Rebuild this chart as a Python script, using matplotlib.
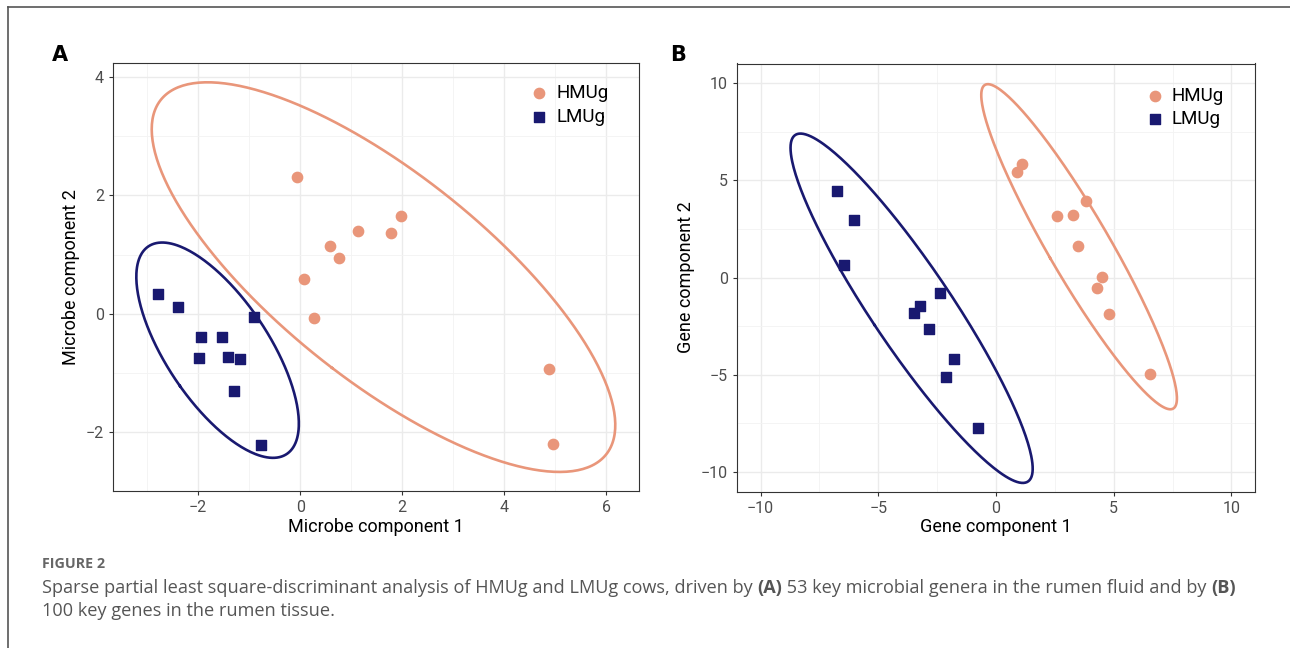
import numpy as np
import matplotlib
matplotlib.use("Agg")
import matplotlib.pyplot as plt
from matplotlib import font_manager
from matplotlib.ticker import MultipleLocator

# Panel A: microbial genera (sPLS-DA components)
a_hmug_x = [-0.07, 0.07, 0.27, 0.59, 0.75, 1.13, 1.78, 1.97, 4.87, 4.96]
a_hmug_y = [2.31, 0.59, -0.07, 1.14, 0.94, 1.39, 1.36, 1.66, -0.94, -2.20]
a_lmug_x = [-2.79, -2.40, -1.95, -1.53, -1.98, -1.41, -1.18, -1.29, -0.90, -0.77]
a_lmug_y = [0.34, 0.11, -0.40, -0.40, -0.75, -0.73, -0.77, -1.30, -0.05, -2.23]

# Panel B: rumen tissue genes
b_hmug_x = [0.90, 1.11, 2.58, 3.25, 3.83, 3.50, 4.52, 4.29, 4.79, 6.52]
b_hmug_y = [5.40, 5.85, 3.15, 3.21, 3.93, 1.61, 0.05, -0.56, -1.88, -4.94]
b_lmug_x = [-6.75, -6.04, -6.45, -2.39, -3.22, -3.48, -2.83, -1.78, -2.14, -0.76]
b_lmug_y = [4.43, 2.94, 0.65, -0.79, -1.44, -1.85, -2.65, -4.21, -5.13, -7.76]

groups = ["HMUg", "LMUg"]
col_h = "#E9967A"
col_l = "#191970"

available = {f.name for f in font_manager.fontManager.ttflist}
plot_font = "Liberation Sans Narrow" if "Liberation Sans Narrow" in available else "Roboto"
cap_font = "Open Sans" if "Open Sans" in available else "DejaVu Sans"


def conf_ellipse(x, y, level=0.95, n=300):
    # 95% normal-theory ellipse, like ellipse::ellipse in R
    x = np.asarray(x)
    y = np.asarray(y)
    cov = np.cov(x, y)
    vals, vecs = np.linalg.eigh(cov)
    t = np.sqrt(-2 * np.log(1 - level))
    th = np.linspace(0, 2 * np.pi, n)
    circ = np.vstack([np.cos(th), np.sin(th)])
    pts = vecs @ (np.sqrt(vals)[:, None] * circ) * t
    return x.mean() + pts[0], y.mean() + pts[1]


def draw_panel(ax, hx, hy, lx, ly, xlim, ylim, major, xlabel, ylabel, leg_anchor):
    ax.set_xlim(*xlim)
    ax.set_ylim(*ylim)
    ax.xaxis.set_major_locator(MultipleLocator(major))
    ax.yaxis.set_major_locator(MultipleLocator(major))
    ax.xaxis.set_minor_locator(MultipleLocator(major / 2))
    ax.yaxis.set_minor_locator(MultipleLocator(major / 2))
    ax.grid(which="major", color="#EBEBEB", lw=1.0)
    ax.grid(which="minor", color="#F3F3F3", lw=0.6)
    ax.set_axisbelow(True)
    ax.tick_params(which="minor", length=0)
    ax.tick_params(which="major", length=3, width=0.8, color="#333333",
                   labelcolor="#4D4D4D", labelsize=11.5)
    for lab in ax.get_xticklabels() + ax.get_yticklabels():
        lab.set_family(plot_font)
    for s in ax.spines.values():
        s.set_color("#333333")
        s.set_linewidth(0.8)

    ex, ey = conf_ellipse(hx, hy)
    ax.plot(ex, ey, color=col_h, lw=1.9)
    ex, ey = conf_ellipse(lx, ly)
    ax.plot(ex, ey, color=col_l, lw=1.9)

    ax.scatter(hx, hy, s=55, marker="o", color=col_h, label=groups[0], zorder=3)
    ax.scatter(lx, ly, s=55, marker="s", color=col_l, label=groups[1], zorder=3)

    ax.set_xlabel(xlabel, family=plot_font, fontsize=13, color="black", labelpad=2)
    ax.set_ylabel(ylabel, family=plot_font, fontsize=13, color="black", labelpad=4)
    leg = ax.legend(loc="upper left", bbox_to_anchor=leg_anchor, frameon=False,
                    prop={"family": plot_font, "size": 13.5}, handletextpad=0.3,
                    labelspacing=0.3, borderaxespad=0, borderpad=0, handlelength=1.2)
    return leg


fig = plt.figure(figsize=(12.9, 6.48), dpi=100)

ax_a = fig.add_axes([113 / 1290, 1 - 491 / 648, 526 / 1290, 428 / 648])
draw_panel(ax_a, a_hmug_x, a_hmug_y, a_lmug_x, a_lmug_y,
           (-3.67, 6.64), (-3.0, 4.24), 2, "Microbe component 1", "Microbe component 2",
           (0.789, 0.951))

ax_b = fig.add_axes([737 / 1290, 1 - 491.5 / 648, 518 / 1290, 428 / 648])
draw_panel(ax_b, b_hmug_x, b_hmug_y, b_lmug_x, b_lmug_y,
           (-11, 11), (-11, 11), 5, "Gene component 1", "Gene component 2",
           (0.785, 0.946))

fig.text(60 / 1290, 1 - 55 / 648, "A", fontsize=15, fontweight="bold", ha="center", va="center")
fig.text(678 / 1290, 1 - 55 / 648, "B", fontsize=15, fontweight="bold", ha="center", va="center")

# figure frame (top and left rules)
fig.add_artist(plt.Line2D([8 / 1290, 1], [1 - 7 / 648, 1 - 7 / 648], color="#555555", lw=1.2))
fig.add_artist(plt.Line2D([8 / 1290, 8 / 1290], [0, 1 - 7 / 648], color="#555555", lw=1.2))

# caption
gray = "#555555"
fig.text(42 / 1290, 1 - 564 / 648, "FIGURE 2", family=cap_font, fontsize=10.3,
         fontweight="bold", color="#666666", va="center")

renderer = fig.canvas.get_renderer()
line1 = [("Sparse partial least square-discriminant analysis of HMUg and LMUg cows, driven by ", "normal"),
         ("(A)", "bold"),
         (" 53 key microbial genera in the rumen fluid and by ", "normal"),
         ("(B)", "bold")]
x0 = 42
for txt, wt in line1:
    t = fig.text(x0 / 1290, 1 - 588 / 648, txt, family=cap_font, fontsize=13.1,
                 fontweight=wt, color=gray, va="center")
    x0 += t.get_window_extent(renderer).width
fig.text(42 / 1290, 1 - 611 / 648, "100 key genes in the rumen tissue.", family=cap_font,
         fontsize=13.1, color=gray, va="center")

fig.savefig("out.png", dpi=100)
